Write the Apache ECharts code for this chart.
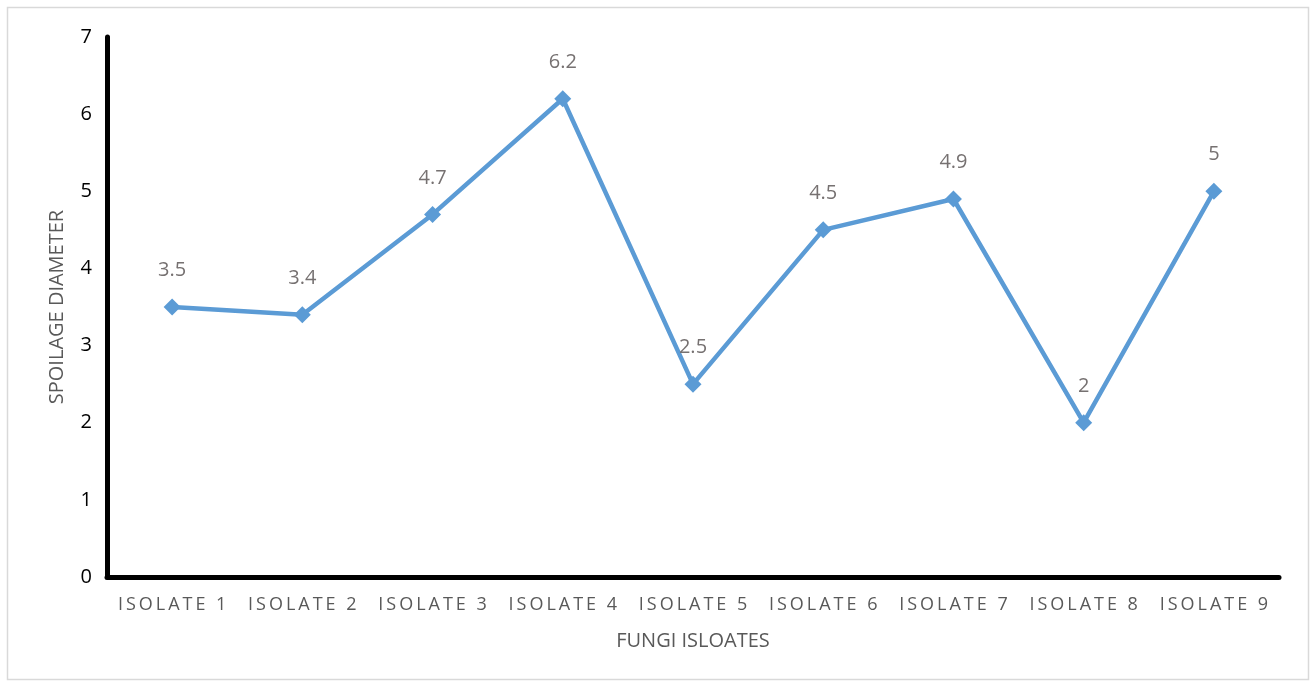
<!DOCTYPE html>
<html>
<head>
<meta charset="utf-8">
<script src="https://cdn.jsdelivr.net/npm/echarts@6/dist/echarts.min.js"></script>
<style>html,body{margin:0;padding:0;background:#fff}#c{width:1316px;height:687px}</style>
</head>
<body>
<div id="c"></div>
<script>
const categories = ["ISOLATE 1","ISOLATE 2","ISOLATE 3","ISOLATE 4","ISOLATE 5","ISOLATE 6","ISOLATE 7","ISOLATE 8","ISOLATE 9"];
const values = [3.5, 3.4, 4.7, 6.2, 2.5, 4.5, 4.9, 2, 5];
const yTicks = [0,1,2,3,4,5,6,7];
const xTitle = "FUNGI ISLOATES";
const yTitle = "SPOILAGE DIAMETER";

const spaced = s => s.split('').join('\u2009');
const chart = echarts.init(document.getElementById('c'), null, {renderer:'canvas'});
chart.setOption({
  animation:false,
  backgroundColor:'#fff',
  graphic:[{type:'rect',shape:{x:7.5,y:7.5,width:1301,height:672},style:{fill:'none',stroke:'#d9d9d9',lineWidth:1.5},silent:true}],
  grid:{left:107,right:37,top:37,bottom:110},
  xAxis:{
    type:'category',data:categories,boundaryGap:true,
    axisLine:{lineStyle:{color:'#000',width:5}},
    axisTick:{show:false},
    axisLabel:{interval:0,hideOverlap:false,color:'#595959',fontFamily:'Open Sans',fontSize:18,margin:19,formatter:v=>spaced(v)},
    name:xTitle,nameLocation:'middle',nameGap:54,
    nameTextStyle:{color:'#595959',fontFamily:'Open Sans',fontSize:20}
  },
  yAxis:{
    type:'value',min:yTicks[0],max:yTicks[yTicks.length-1],interval:1,
    axisLine:{show:true,lineStyle:{color:'#000',width:5}},
    axisTick:{show:false},
    splitLine:{show:false},
    axisLabel:{color:'#000',fontFamily:'Open Sans',fontSize:20,margin:15},
    name:yTitle,nameLocation:'middle',nameGap:40,nameRotate:90,
    nameTextStyle:{color:'#595959',fontFamily:'Open Sans',fontSize:20}
  },
  series:[{
    type:'line',data:values,
    lineStyle:{color:'#5b9bd5',width:4.5},
    itemStyle:{color:'#5b9bd5'},
    symbol:'diamond',symbolSize:17,
    label:{show:true,position:'top',distance:18,color:'#767171',fontFamily:'Open Sans',fontSize:20}
  }]
});
</script>
</body>
</html>
